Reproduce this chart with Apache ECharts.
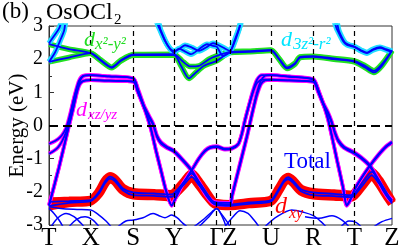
<!DOCTYPE html>
<html lang="en">
<head>
<meta charset="UTF-8">
<style>
  body { margin: 0; padding: 0; background: #fff; }
  #band { width: 399px; height: 250px; }
</style>
<script src="https://cdn.jsdelivr.net/npm/echarts@6/dist/echarts.min.js"></script>
</head>
<body>
<div id="band"></div>
<script>
// k-path positions of the high-symmetry points and their names
const kPoints = [0, 41.7, 84.3, 125, 167.7, 181, 222, 264.3, 305.3, 343];
const kLabels = ['T', 'X', 'S', 'Y', 'Γ', 'Z', 'U', 'R', 'T', 'Z'];

// d_xz/yz bands (magenta)
const tA = [[0,-2.4],[10,-1.25],[19.5,-0.05],[24,0.5],[28,1.05],[31,1.35],[35,1.5],[41.7,1.52],[60,1.48],[84.3,1.42],[89,1.05],[94,0.65],[98,0.3],[102,-0.1],[107,-0.75],[112,-1.35],[117,-1.95],[122.7,-2.42],[127,-2.15],[133,-1.8],[142.7,-1.34],[150,-0.98],[156,-0.75],[161,-0.65],[167.7,-0.62],[176,-0.7],[183,-0.67],[189.3,-0.55],[193,-0.22],[196,0.17],[200,0.62],[204,1.05],[208,1.38],[213,1.52],[222,1.52],[240,1.47],[264.3,1.38],[270,1.0],[275,0.6],[279.3,0.17],[288.5,-1.1],[294,-1.85],[297.7,-2.42],[301,-2.25],[306,-1.9],[313,-1.55],[321,-1.2],[330,-0.85],[337,-0.62],[343,-0.49]];
const tC = [[0,-2.42],[10,-1.27],[19.5,-0.07],[24,0.48],[28,1.0],[31,1.25],[35,1.35],[41.7,1.37],[60,1.35],[84.3,1.32],[89,1.0],[94,0.62],[98,0.28],[102,-0.12],[107,-0.77],[112,-1.37],[117,-1.97],[122.7,-2.4],[127,-2.17],[133,-1.82],[142.7,-1.36],[150,-1.0],[156,-0.78],[161,-0.68],[167.7,-0.65],[176,-0.73],[183,-0.7],[189.3,-0.57],[193,-0.25],[196,0.15],[200,0.6],[204,1.0],[208,1.28],[213,1.38],[222,1.38],[240,1.36],[264.3,1.32],[270,0.97],[275,0.58],[279.3,0.15],[288.5,-1.12],[294,-1.87],[297.7,-2.4],[301,-2.27],[306,-1.92],[313,-1.57],[321,-1.22],[330,-0.88],[337,-0.65],[343,-0.52]];
const tB = [[0,-0.55],[6,-0.47],[11,-0.36],[15,-0.2],[18,0.0],[22,0.45],[26,0.95],[30,1.35],[34,1.5],[41.7,1.52],[60,1.48],[84.3,1.42],[89,1.1],[95,0.6],[100,0.3],[104.3,0.05],[108,-0.3],[112,-0.5],[118,-0.64],[124.3,-0.74],[133,-1.0],[142.7,-1.34],[150,-1.7],[157,-2.05],[163,-2.27],[167.7,-2.32],[181,-2.33],[183,-2.1],[188,-1.5],[193,-0.9],[198,-0.3],[201,0.1],[204,0.5],[208,1.0],[212,1.35],[216,1.5],[222,1.52],[240,1.48],[264.3,1.4],[269,1.1],[274,0.7],[279,0.4],[282.7,0.12],[286,-0.2],[289.3,-0.44],[295,-0.64],[304.3,-0.79],[312,-0.95],[321,-1.2],[328,-1.55],[335,-1.95],[340,-2.15],[343,-2.25]];
const tD = [[0,-0.85],[5,-0.76],[9,-0.66],[13,-0.48],[17,-0.2],[21,0.25],[25,0.8],[29,1.2],[33,1.33],[41.7,1.37],[60,1.35],[84.3,1.32],[89,1.0],[95,0.55],[100,0.25],[104.3,0.0],[108,-0.35],[112,-0.55],[118,-0.68],[124.3,-0.78],[133,-1.04],[142.7,-1.38],[150,-1.75],[157,-2.1],[163,-2.32],[167.7,-2.38],[181,-2.4],[183,-2.15],[188,-1.55],[193,-0.95],[198,-0.35],[201,0.05],[204,0.45],[208,0.92],[212,1.25],[216,1.36],[222,1.38],[240,1.36],[264.3,1.32],[269,1.02],[274,0.65],[279,0.35],[282.7,0.08],[286,-0.25],[289.3,-0.48],[295,-0.68],[304.3,-0.83],[312,-0.99],[321,-1.24],[328,-1.6],[335,-2.0],[340,-2.22],[343,-2.3]];

// d_xy bands (red)
const rA = [[0,-2.3],[20,-2.28],[41.7,-2.25],[50,-2.0],[56,-1.68],[61,-1.54],[66,-1.62],[74,-1.9],[84.3,-2.02],[105,-2.05],[122.7,-2.08],[128,-1.95],[135,-1.7],[142.7,-1.45],[150,-1.7],[158,-2.05],[164,-2.3],[167.7,-2.35],[181,-2.38],[200,-2.32],[222,-2.25],[230,-1.9],[235,-1.65],[239.3,-1.56],[244,-1.66],[252,-1.92],[264.3,-2.02],[285,-2.06],[302.7,-2.1],[308,-1.95],[315,-1.65],[322.7,-1.4],[330,-1.65],[337,-2.0],[343,-2.3]];
const rB = [[0,-2.43],[20,-2.33],[41.7,-2.28],[50,-2.05],[56,-1.74],[61,-1.6],[66,-1.68],[74,-1.96],[84.3,-2.1],[105,-2.12],[122.7,-2.15],[128,-2.0],[135,-1.78],[142.7,-1.55],[150,-1.8],[158,-2.12],[164,-2.33],[167.7,-2.4],[181,-2.42],[200,-2.36],[222,-2.29],[230,-1.95],[235,-1.7],[239.3,-1.62],[244,-1.72],[252,-1.98],[264.3,-2.1],[285,-2.13],[302.7,-2.16],[308,-2.02],[315,-1.75],[322.7,-1.5],[330,-1.75],[337,-2.08],[343,-2.35]];

// d_x2-y2 bands (green)
const gA = [[0,2.45],[20,2.3],[41.7,2.18],[52,1.95],[62.7,1.74],[72,1.95],[84.3,2.12],[125,2.12],[132,1.8],[140,1.42],[147,1.6],[155,1.8],[167.7,1.95],[181,2.2],[200,2.22],[222,2.26],[230,2.0],[238,1.72],[246,1.85],[251,2.05],[264.3,2.07],[285,2.0],[305.3,1.92],[316,1.75],[325,1.6],[333,1.8],[343,2.25]];
const gB = [[0,1.92],[20,2.05],[41.7,2.18],[52,1.97],[62.7,1.76],[72,1.97],[84.3,2.14],[125,2.15],[133,1.95],[141,1.78],[150,1.8],[160,2.0],[167.7,2.1],[181,2.22],[200,2.24],[222,2.28],[230,2.02],[238,1.75],[246,1.88],[251,2.07],[264.3,2.09],[285,2.02],[305.3,1.95],[316,1.8],[325,1.65],[333,1.85],[343,2.27]];

// d_3z2-r2 bands (cyan)
const cA = [[0,2.48],[5,2.7],[10,2.92],[16,3.3],[60,3.6],[104,3.3],[110,2.95],[116,2.55],[121,2.32],[125,2.25],[130,2.3],[136,2.42],[143,2.35],[150,2.25],[157,2.35],[164,2.48],[167.7,2.45],[174,2.35],[181,2.25],[186,2.55],[190,2.9],[194,3.3],[240,3.6],[282,3.3],[288,2.9],[294,2.55],[298,2.43],[305.3,2.37],[312,2.25],[318,2.18],[324,2.28],[331,2.34],[337,2.28],[343,2.22]];
const cB = [[0,1.92],[6,2.2],[11,2.55],[15,2.85],[19,3.3],[60,3.6],[106,3.3],[112,2.85],[118,2.45],[125,2.2],[130,2.32],[135,2.25],[142,2.15],[150,2.3],[158,2.45],[164,2.4],[167.7,2.38],[174,2.1],[181,2.22],[186,2.6],[191,3.0],[195,3.3],[240,3.6],[285,3.3],[290,2.85],[296,2.5],[300,2.43],[305.3,2.38],[312,2.27],[318,2.2],[324,2.3],[331,2.36],[337,2.3],[343,2.24]];

// lower bands (total only)
const lowBands = [
  [[0,-2.45],[12,-2.5],[28,-2.53],[41.7,-2.55],[50,-2.7],[57,-2.88],[62,-3.05]],
  [[0,-2.5],[5,-2.65],[10,-2.85],[14,-3.05]],
  [[2,-3.05],[9,-2.78],[17,-2.65],[25,-2.75],[32,-2.95],[35,-3.05]],
  [[20,-3.05],[28,-2.82],[36,-2.75],[44,-2.85],[50,-3.05]],
  [[69,-3.05],[77,-2.88],[84.3,-2.85],[94,-2.78],[104,-2.65],[110,-2.72],[116,-2.78],[122.7,-2.7],[128,-2.78],[134,-2.95],[138,-3.05]],
  [[145,-3.05],[155,-2.82],[163,-2.6],[167.7,-2.5],[172,-2.65],[178,-2.9],[181,-3.05]],
  [[150,-3.05],[160,-2.75],[167.7,-2.5],[174,-2.8],[177,-3.05]],
  [[176,-3.05],[184,-2.75],[191,-2.57],[199,-2.65],[205,-2.85],[210,-3.05]],
  [[216,-3.05],[228,-2.75],[242.7,-2.55],[255,-2.62],[264.3,-2.72],[272,-2.9],[277,-3.05]],
  [[256,-2.75],[270,-2.8],[283,-2.72],[293,-2.85],[300,-3.05]],
  [[292,-3.05],[300,-2.88],[307,-2.92],[312,-3.05]],
  [[325,-3.05],[333,-2.9],[343,-2.8]]
];

const serif = 'Liberation Serif';
const blue = '#0000ff';

function fatBand(pts, color, width) {
  return [
    { type: 'line', data: pts, smooth: 0.25, symbol: 'none', silent: true,
      lineStyle: { color: color, width: width }, z: 2 },
    { type: 'line', data: pts, smooth: 0.25, symbol: 'none', silent: true,
      lineStyle: { color: blue, width: 1.8 }, z: 4 }
  ];
}

let series = [];
[rA, rB].forEach(b => series = series.concat(fatBand(b, '#ff0000', 9)));
[tA, tC, tB, tD].forEach(b => series = series.concat(fatBand(b, '#ff00ff', 3.8)));
[gA, gB].forEach(b => series = series.concat(fatBand(b, '#22e022', 5.5)));
[cA, cB].forEach(b => series = series.concat(fatBand(b, '#22ddff', 5.5)));
lowBands.forEach(b => series.push({
  type: 'line', data: b, smooth: 0.3, symbol: 'none', silent: true,
  lineStyle: { color: blue, width: 1.5 }, z: 4
}));

// dashed guide lines and k-point labels
series.push({
  type: 'line', data: [], silent: true, z: 1,
  markLine: {
    silent: true, symbol: 'none', animation: false,
    lineStyle: { color: '#000', type: [5, 4], width: 1.2 },
    label: { position: 'start', distance: 1, color: '#000', fontFamily: serif, fontSize: 25 },
    data: kPoints.map((k, i) => {
      const edge = (i === 0 || i === kPoints.length - 1);
      return { xAxis: k, label: { formatter: kLabels[i] },
               lineStyle: edge ? { width: 0, color: 'rgba(0,0,0,0)' } : {} };
    }).concat([{ yAxis: 0, label: { show: false },
                 lineStyle: { type: [9, 5], width: 2, color: '#000' } }])
  }
});

function txt(left, top, text, size, color, italic) {
  return { type: 'text', left: left, top: top, z: 10,
    style: { text: text, fill: color, font: (italic ? 'italic ' : '') + size + 'px "' + serif + '"' } };
}

const chart = echarts.init(document.getElementById('band'), null, { renderer: 'canvas' });
chart.setOption({
  animation: false,
  grid: { left: 49, right: 7, top: 26, bottom: 25, containLabel: false, outerBoundsMode: 'none',
          show: true, borderColor: '#333', borderWidth: 1 },
  xAxis: {
    type: 'value', min: 0, max: 343,
    axisLine: { show: false }, axisTick: { show: false },
    axisLabel: { show: false }, splitLine: { show: false }
  },
  yAxis: {
    type: 'value', min: -3, max: 3, interval: 1,
    name: 'Energy (eV)', nameLocation: 'middle', nameGap: 21, nameMoveOverlap: false,
    nameTextStyle: { fontFamily: serif, fontSize: 21, color: '#000' },
    axisLine: { show: true, lineStyle: { color: '#333' } },
    axisTick: { inside: true, length: 5, lineStyle: { color: '#333' } },
    minorTick: { show: true, splitNumber: 2, length: 3, lineStyle: { color: '#333' } },
    axisLabel: { fontFamily: serif, fontSize: 20, color: '#000', margin: 6 },
    splitLine: { show: false }
  },
  graphic: [
    txt(2, 0, '(b)', 23, '#000'),
    txt(46, 1, 'OsOCl', 24, '#000'),
    txt(114, 13, '2', 15, '#000'),
    txt(84, 29, 'd', 22, '#22dd22', true),
    txt(95, 36, 'x²-y²', 17, '#22dd22', true),
    txt(76, 99, 'd', 22, '#ff00ff', true),
    txt(88, 108, 'xz/yz', 15, '#ff00ff', true),
    txt(281, 29, 'd', 22, '#00e5ff', true),
    txt(293, 36, '3z²-r²', 17, '#00e5ff', true),
    txt(284, 150, 'Total', 23, blue),
    txt(275, 195, 'd', 24, '#ff0000', true),
    txt(289, 206, 'xy', 16, '#ff0000', true)
  ],
  series: series
});
</script>
</body>
</html>
